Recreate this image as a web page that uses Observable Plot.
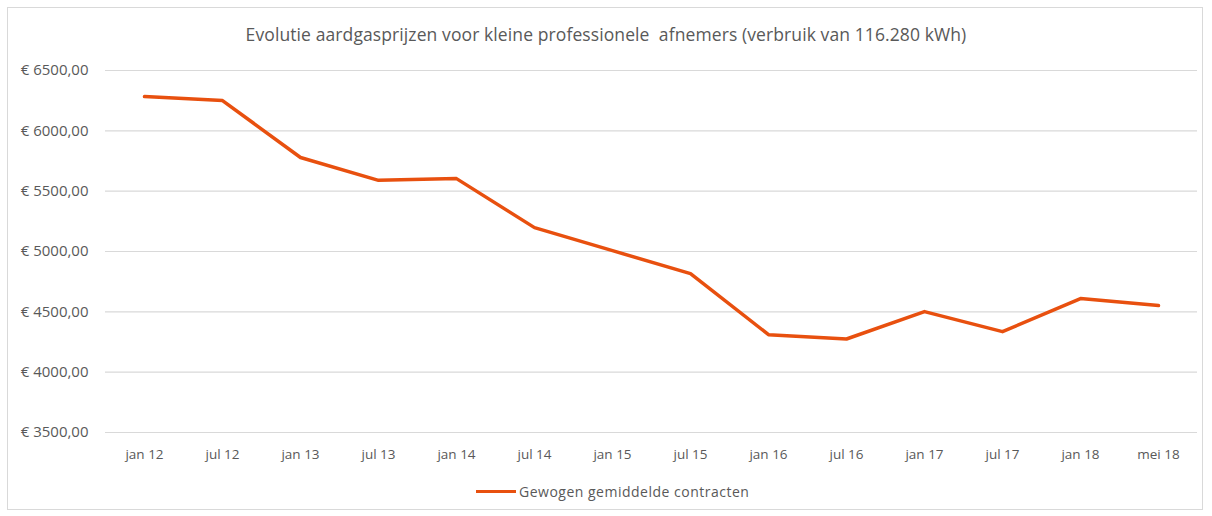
<!DOCTYPE html>
<html>
<head>
<meta charset="utf-8">
<script src="https://cdn.jsdelivr.net/npm/d3@7"></script>
<script src="https://cdn.jsdelivr.net/npm/@observablehq/plot@0.6"></script>
<style>
  html, body { margin: 0; padding: 0; background: #fff; }
  #wrap { position: relative; width: 1212px; height: 516px; overflow: hidden; font-family: "Open Sans", sans-serif; color: #595959; }
  #border { position: absolute; left: 7px; top: 7px; width: 1196px; height: 503px; border: 1px solid #d9d9d9; box-sizing: border-box; }
  #title { position: absolute; left: 0; top: 22px; width: 1212px; text-align: center; font-size: 17.5px; color: #595959; letter-spacing: 0.1px; }
  #chart { position: absolute; left: 0; top: 55px; }
  #legend { position: absolute; top: 482px; left: 476px; font-size: 14px; color: #595959; display: flex; align-items: center; letter-spacing: 0.5px; }
  #legend .sw { display: inline-block; width: 40px; height: 3.5px; background: #e8500f; margin-right: 3px; }
  #chart svg g[aria-label="y-axis tick label"] text { font-size: 15px; }
  #chart svg g[aria-label="x-axis tick label"] text { font-size: 13.5px; }
</style>
</head>
<body>
<div id="wrap">
  <div id="border"></div>
  <div id="title">Evolutie aardgasprijzen voor kleine professionele&nbsp; afnemers (verbruik van 116.280 kWh)</div>
  <div id="chart"></div>
  <div id="legend"><span class="sw"></span><span>Gewogen gemiddelde contracten</span></div>
</div>
<script>
const periods = ["jan 12","jul 12","jan 13","jul 13","jan 14","jul 14","jan 15","jul 15","jan 16","jul 16","jan 17","jul 17","jan 18","mei 18"];
const prices = [6284, 6251, 5779, 5590, 5604, 5198, 5007, 4817, 4311, 4275, 4502, 4336, 4610, 4552];
const yTicks = [3500, 4000, 4500, 5000, 5500, 6000, 6500];
const seriesName = "Gewogen gemiddelde contracten";

const data = periods.map((p, i) => ({period: p, price: prices[i], series: seriesName}));

const fmt = d => "€ " + d.toFixed(2).replace(".", ",");

const plot = Plot.plot({
  width: 1212,
  height: 415,
  marginLeft: 105,
  marginRight: 15,
  marginTop: 15,
  marginBottom: 38,
  style: { fontFamily: "'Open Sans', sans-serif", fontSize: "13px", color: "#595959", background: "transparent" },
  x: { type: "point", domain: periods, padding: 0.5, label: null, tickSize: 0, tickPadding: 17 },
  y: { domain: [3500, 6500], ticks: yTicks, tickFormat: fmt, label: null, tickSize: 0, tickPadding: 17 },
  marks: [
    Plot.ruleY(yTicks, { stroke: "#d9d9d9", strokeWidth: 1.2 }),
    Plot.line(data, { x: "period", y: "price", stroke: "#e8500f", strokeWidth: 3.5, strokeLinejoin: "round", strokeLinecap: "round" })
  ]
});
document.getElementById("chart").appendChild(plot);
</script>
</body>
</html>
